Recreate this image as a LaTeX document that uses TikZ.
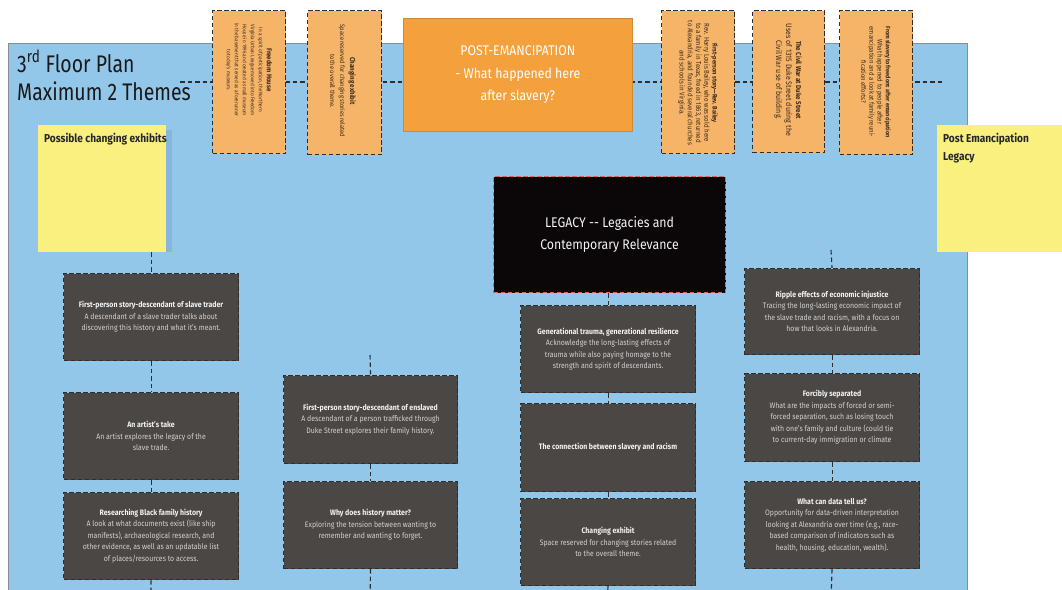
\documentclass[tikz,border=0pt]{standalone}
\usepackage{fontspec}
\setmainfont{Fira Sans}[FakeStretch=0.88]
\newfontfamily\headfont{Fira Sans}[FakeStretch=0.81]
\definecolor{planblue}{HTML}{93C7EA}
\definecolor{planedge}{HTML}{8A8F96}
\definecolor{notesh}{HTML}{84B7DB}
\definecolor{noteyel}{HTML}{FAF080}
\definecolor{orlight}{HTML}{F5B468}
\definecolor{ordark}{HTML}{F4A03C}
\definecolor{ortext}{HTML}{3B2A1E}
\definecolor{boxgray}{HTML}{4A4745}
\definecolor{gtitle}{HTML}{F2F2F2}
\definecolor{gbody}{HTML}{D2D2D2}
\definecolor{legblack}{HTML}{0B0709}
\definecolor{legred}{HTML}{E0605A}
\definecolor{dashgray}{HTML}{2E2E2E}

\tikzset{
  conn/.style={draw=dashgray, line width=1.1pt, dash pattern=on 4.5pt off 3pt},
  gbox/.style={draw=dashgray, line width=1.1pt, dash pattern=on 4.5pt off 2.5pt,
    fill=boxgray, anchor=north west, minimum width=175pt, minimum height=87pt,
    inner sep=0pt, align=center, text=gbody, font=\fontsize{7.9}{11.5}\selectfont},
  obox/.style={draw=dashgray, line width=1.1pt, dash pattern=on 4.5pt off 2.5pt,
    fill=orlight, anchor=north west, inner sep=0pt},
  otext/.style={rotate=-90, align=center, text=ortext, inner sep=0pt},
  note/.style={fill=noteyel, anchor=north west, inner sep=0pt,
    minimum width=128pt, minimum height=127pt},
  notetext/.style={anchor=north west, align=left, inner sep=0pt,
    font=\fontsize{11.5}{18}\selectfont\bfseries, text=black!85},
  title/.style={anchor=base west, inner sep=0pt, font=\headfont\fontsize{24}{28}\selectfont, text=black!90}
}
\newcommand{\gt}[1]{\textcolor{gtitle}{\bfseries #1}}
\newcommand{\ot}[2]{{\fontsize{#1}{#1}\selectfont\bfseries #2}}

\begin{document}
\begin{tikzpicture}[x=1pt,y=-1pt]
\useasboundingbox (0,0) rectangle (1062,589);
\clip (0,0) rectangle (1062,589);
\fill[white] (0,0) rectangle (1062,589);

% floor plan area
\draw[draw=planedge, line width=0.8pt, fill=planblue] (8,43) rectangle (967,620);

% heading
\node[title] (t1) at (17,72) {3\textsuperscript{rd} Floor Plan};
\node[title] (t2) at (17,100) {Maximum 2 Themes};

% dashed spine behind the top row
\coordinate (spineL) at (180,82);
\coordinate (spineR) at (943,82);
\draw[conn] (spineL) -- (spineR);

% top row: rotated story cards
\node[obox, minimum width=73pt, minimum height=143pt] (fh) at (212,10) {};
\node[otext, font=\fontsize{5.3}{8}\selectfont] (fhT) at (249,70)
  {\ot{7}{Freedom House}\\In a spirit of participation, the Northern\\Virginia Urban League moved into Freedom\\House in 1996 and created a small museum\\in the basement that served as a forerunner\\to today's museum.};

\node[obox, minimum width=74pt, minimum height=144pt] (ce1) at (307,10) {};
\node[otext, font=\fontsize{6.5}{10}\selectfont] (ce1T) at (343,81)
  {\ot{7}{Changing exhibit}\\Space reserved for changing stories related\\to the overall theme.};

\node[draw=ordark!85!black, line width=0.6pt, fill=ordark, anchor=north west,
  minimum width=229pt, minimum height=113pt, inner sep=0pt, align=center,
  text=white, font=\fontsize{14}{22.5}\selectfont] (pe) at (403,18)
  {POST-EMANCIPATION\\- What happened here\\after slavery?};

\node[obox, minimum width=73pt, minimum height=143pt] (rb) at (661,10) {};
\node[otext, font=\fontsize{7}{8.3}\selectfont] (rbT) at (698,83)
  {\ot{6.5}{First-person story---Rev. Bailey}\\Rev. Harry Louis Bailey, who was sold here\\to a family in Texas, freed in 1863, returned\\to Alexandria, and founded several churches\\and schools in Virginia.};

\node[obox, minimum width=72pt, minimum height=142pt] (cw) at (752,10) {};
\node[otext, font=\fontsize{8}{10}\selectfont] (cwT) at (788,80)
  {\ot{7}{The Civil War at Duke Street}\\Uses of 1315 Duke Street during the\\Civil War use of building.};

\node[obox, minimum width=73pt, minimum height=144pt] (sf) at (839,10) {};
\node[otext, font=\fontsize{6.8}{8.2}\selectfont] (sfT) at (876,82)
  {\ot{6.2}{From slavery to freedom: after emancipation}\\What happened to people after\\emancipation and a look at family reuni-\\fication efforts?};

% sticky notes
\fill[notesh] (166,130) rectangle (172,252);
\node[note] (lnote) at (38,125) {};
\node[notetext] (lnoteT) at (44,133) {Possible changing exhibits};
\node[note, minimum width=130pt] (rnote) at (937,125) {};
\node[notetext] (rnoteT) at (943,133) {Post Emancipation\\Legacy};

% theme box
\node[draw=legred, line width=1.1pt, dash pattern=on 4.5pt off 2.5pt, fill=legblack,
  anchor=north west, minimum width=232pt, minimum height=116pt, inner sep=0pt,
  align=center, text=gtitle, font=\fontsize{14}{22}\selectfont] (legacy) at (493,176)
  {LEGACY -{}- Legacies and\\Contemporary Relevance};

% column 1
\node[gbox] (c1a) at (63,273)
  {\gt{First-person story-descendant of slave trader}\\A descendant of a slave trader talks about\\discovering this history and what it's meant.};
\node[gbox] (c1b) at (63,392)
  {\gt{An artist's take}\\An artist explores the legacy of the\\slave trade.};
\node[gbox] (c1c) at (63,492)
  {\gt{Researching Black family history}\\A look at what documents exist (like ship\\manifests), archaeological research, and\\other evidence, as well as an updatable list\\of places/resources to access.};

% column 2
\node[gbox, minimum width=174pt, minimum height=88pt] (c2a) at (283,375)
  {\gt{First-person story-descendant of enslaved}\\A descendant of a person trafficked through\\Duke Street explores their family history.};
\node[gbox, minimum width=174pt] (c2b) at (283,481)
  {\gt{Why does history matter?}\\Exploring the tension between wanting to\\remember and wanting to forget.};

% column 3
\node[gbox] (c3a) at (520,305)
  {\gt{Generational trauma, generational resilience}\\Acknowledge the long-lasting effects of\\trauma while also paying homage to the\\strength and spirit of descendants.};
\node[gbox, minimum height=88pt] (c3b) at (520,403)
  {\gt{The connection between slavery and racism}};
\node[gbox] (c3c) at (520,498)
  {\gt{Changing exhibit}\\Space reserved for changing stories related\\to the overall theme.};

% column 4
\node[gbox, minimum height=86pt] (c4a) at (744,268)
  {\gt{Ripple effects of economic injustice}\\Tracing the long-lasting economic impact of\\the slave trade and racism, with a focus on\\how that looks in Alexandria.};
\node[gbox, minimum height=88pt] (c4b) at (744,373)
  {\gt{Forcibly separated}\\What are the impacts of forced or semi-\\forced separation, such as losing touch\\with one's family and culture (could tie\\to current-day immigration or climate};
\node[gbox] (c4c) at (744,481)
  {\gt{What can data tell us?}\\Opportunity for data-driven interpretation\\looking at Alexandria over time (e.g., race-\\based comparison of indicators such as\\health, housing, education, wealth).};

% free ends of the column links
\coordinate (c2top) at (370,355);
\coordinate (c4top) at (831,250);
\coordinate (c1end) at (151,600);
\coordinate (c2end) at (370,600);
\coordinate (c3end) at (607,600);
\coordinate (c4end) at (831,600);

% column links
\draw[conn] (c1a.north |- lnote.south) -- (c1a.north);
\draw[conn] (c1a) -- (c1b);
\draw[conn] (c1b) -- (c1c);
\draw[conn] (c1c.south) -- (c1end);

\draw[conn] (c2top) -- (c2a.north);
\draw[conn] (c2a) -- (c2b);
\draw[conn] (c2b.south) -- (c2end);

\draw[conn] (legacy.south -| c3a.north) -- (c3a.north);
\draw[conn] (c3a) -- (c3b);
\draw[conn] (c3b) -- (c3c);
\draw[conn] (c3c.south) -- (c3end);

\draw[conn] (c4top) -- (c4a.north);
\draw[conn] (c4a) -- (c4b);
\draw[conn] (c4b) -- (c4c);
\draw[conn] (c4c.south) -- (c4end);
\end{tikzpicture}
\end{document}
